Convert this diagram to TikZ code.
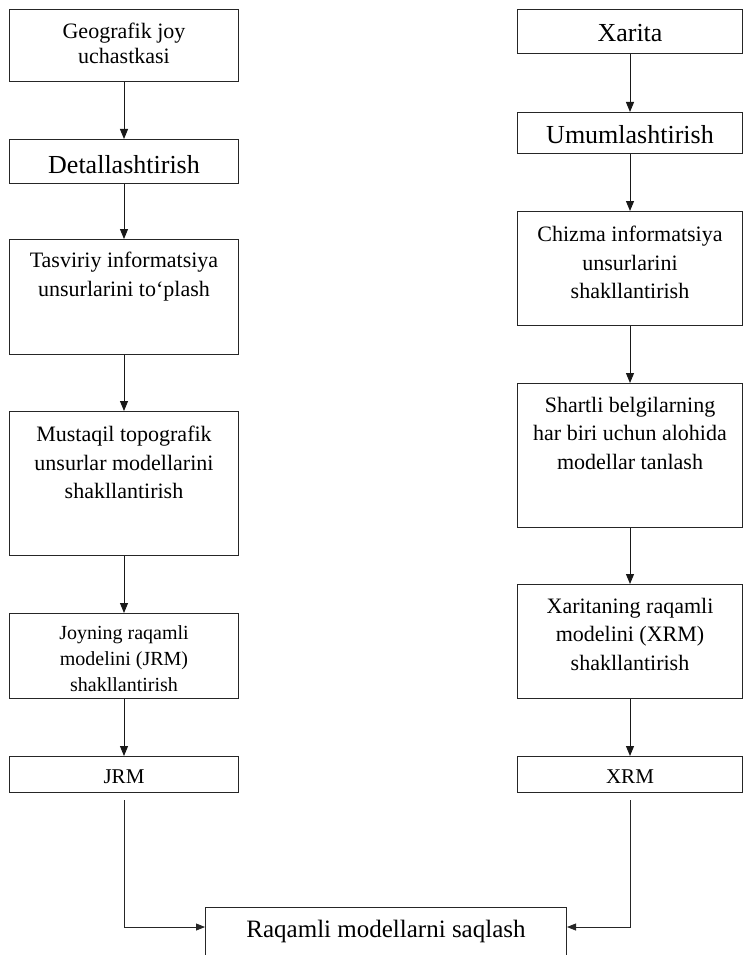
\documentclass[tikz,border=0pt]{standalone}
\usepackage{fontspec}
\setmainfont{Liberation Serif}
\usetikzlibrary{arrows.meta}
\begin{document}
\begin{tikzpicture}[x=1pt,y=-1pt,
  box/.style={draw=black!85, line width=1pt, inner sep=0pt, anchor=north west},
  lbox/.style={box, minimum width=229pt},
  rbox/.style={box, minimum width=225pt},
  txt/.style={anchor=north, inner sep=0pt, align=center, text=black,
              font=\fontsize{22}{28.5}\selectfont},
  big/.style={txt, font=\fontsize{26}{30}\selectfont},
  flow/.style={draw=black!90, line width=1pt,
               -{Triangle[length=10pt,width=8pt]}},
  mergeline/.style={draw=black!85, line width=0.8pt,
               -{Triangle[length=9pt,width=7pt]}}]
\useasboundingbox (0,0) rectangle (744,955);

% left column
\node[lbox, minimum height=72pt] (geo) at (9,9) {};
\node[txt, font=\fontsize{22}{25}\selectfont] (geot) at ([yshift=-14pt]geo.north) {Geografik joy\\uchastkasi};

\node[lbox, minimum height=44pt] (det) at (9,139) {};
\node[big] (dett) at ([yshift=-16pt]det.north) {Detallashtirish};

\node[lbox, minimum height=115pt] (tas) at (9,239) {};
\node[txt] (tast) at ([yshift=-13pt]tas.north) {Tasviriy informatsiya\\unsurlarini to‘plash};

\node[lbox, minimum height=144pt] (mus) at (9,411) {};
\node[txt] (must) at ([yshift=-15pt]mus.north) {Mustaqil topografik\\unsurlar modellarini\\shakllantirish};

\node[lbox, minimum height=85pt] (joy) at (9,613) {};
\node[txt, font=\fontsize{20}{26}\selectfont] (joyt) at ([yshift=-12pt]joy.north) {Joyning raqamli\\modelini (JRM)\\shakllantirish};

\node[lbox, minimum height=36pt] (jrm) at (9,756) {};
\node[txt, font=\fontsize{21}{25}\selectfont] (jrmt) at ([yshift=-14pt]jrm.north) {JRM};

% right column
\node[rbox, minimum height=44pt] (xar) at (517,9) {};
\node[big] (xart) at ([yshift=-15pt]xar.north) {Xarita};

\node[rbox, minimum height=41pt] (umu) at (517,112) {};
\node[big] (umut) at ([yshift=-13pt]umu.north) {Umumlashtirish};

\node[rbox, minimum height=114pt] (chi) at (517,211) {};
\node[txt] (chit) at ([yshift=-15pt]chi.north) {Chizma informatsiya\\unsurlarini\\shakllantirish};

\node[rbox, minimum height=144pt] (sha) at (517,383) {};
\node[txt] (shat) at ([yshift=-14pt]sha.north) {Shartli belgilarning\\har biri uchun alohida\\modellar tanlash};

\node[rbox, minimum height=114pt] (xrt) at (517,584) {};
\node[txt] (xrtt) at ([yshift=-14pt]xrt.north) {Xaritaning raqamli\\modelini (XRM)\\shakllantirish};

\node[rbox, minimum height=36pt] (xrm) at (517,756) {};
\node[txt, font=\fontsize{21}{25}\selectfont] (xrmt) at ([yshift=-14pt]xrm.north) {XRM};

% storage box (runs past the lower edge)
\node[box, minimum width=361pt, minimum height=60pt] (sto) at (205,907) {};
\node[txt, font=\fontsize{25}{30}\selectfont] (stot) at ([yshift=-13pt]sto.north) {Raqamli modellarni saqlash};

% vertical flow
\draw[flow] (geo) -- (det);
\draw[flow] (det) -- (tas);
\draw[flow] (tas) -- (mus);
\draw[flow] (mus) -- (joy);
\draw[flow] (joy) -- (jrm);
\draw[flow] (xar) -- (umu);
\draw[flow] (umu) -- (chi);
\draw[flow] (chi) -- (sha);
\draw[flow] (sha) -- (xrt);
\draw[flow] (xrt) -- (xrm);

% both models go to storage
\draw[mergeline] ([yshift=-7pt]jrm.south) |- ([yshift=-20pt]sto.north west);
\draw[mergeline] ([yshift=-7pt]xrm.south) |- ([yshift=-20pt]sto.north east);
\end{tikzpicture}
\end{document}
